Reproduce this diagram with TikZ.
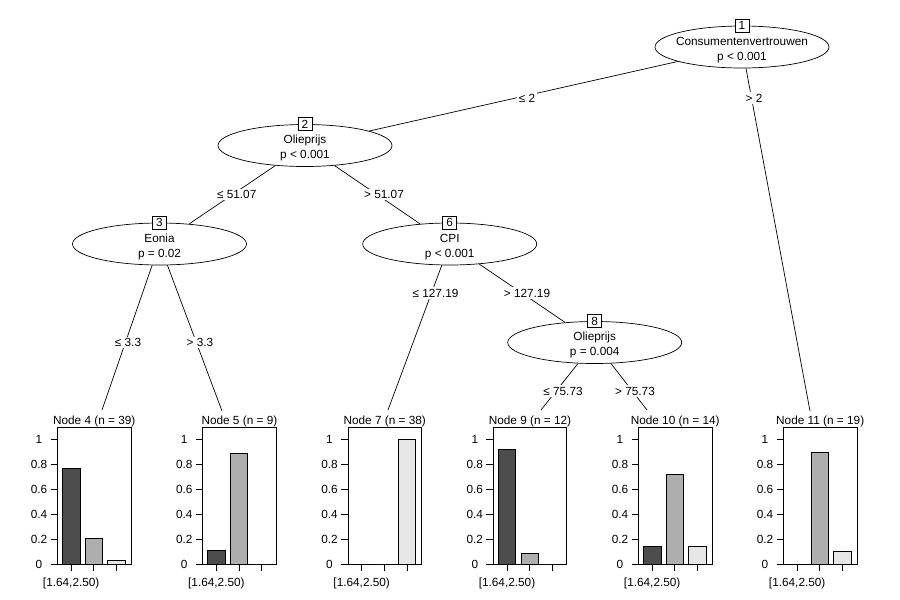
\documentclass[tikz,border=0pt]{standalone}
\usepackage{fontspec}
\setmainfont{Liberation Sans}
\usetikzlibrary{shapes.geometric}
\definecolor{bardark}{HTML}{4D4D4D}
\definecolor{barmid}{HTML}{AEAEAE}
\definecolor{barlight}{HTML}{E6E6E6}
\newcommand{\twolines}[2]{\raisebox{-5.7pt}[0pt][0pt]{\makebox[0pt]{\begin{tabular}{@{}c@{}}#1\\#2\end{tabular}}}}

\begin{document}
\begin{tikzpicture}[x=1pt,y=-1pt,line width=0.7pt,
  every node/.style={font=\fontsize{11.8}{15}\selectfont},
  split/.style={draw,shape=ellipse,fill=white,inner sep=0pt,minimum width=174pt,minimum height=42pt},
  idbox/.style={draw,fill=white,inner sep=0pt,minimum width=14pt,minimum height=13pt},
  elab/.style={fill=white,inner sep=1.5pt}]
  \useasboundingbox (0,0) rectangle (900,600);
  % inner nodes
  \path (742,47) node[split] (n1) {\twolines{Consumentenvertrouwen}{p < 0.001}}
  (305,145.5) node[split] (n2) {\twolines{Olieprijs}{p < 0.001}}
  (159.5,244) node[split] (n3) {\twolines{Eonia}{p = 0.02}}
  (449.7,244) node[split] (n6) {\twolines{CPI}{p < 0.001}}
  (594.7,342.5) node[split] (n8) {\twolines{Olieprijs}{p = 0.004}};
  \foreach \i in {1,2,3,6,8} \node[idbox] (b\i) at (n\i.north) {\i};
  % ends of the edges above the terminal panels
  \path (102,410) coordinate (e4) (222,411) coordinate (e5) (388,410) coordinate (e7)
  (541,410) coordinate (e9) (647,410) coordinate (e10) (810,411) coordinate (e11);
  \draw (n1) -- (n2) (n1) -- (e11) (n2) -- (n3) (n2) -- (n6) (n3) -- (e4) (n3) -- (e5)
  (n6) -- (e7) (n6) -- (n8) (n8) -- (e9) (n8) -- (e10);
  \path (527,98) node[elab] (l2) {≤ 2} (754,98) node[elab] (l11) {> 2}
  (236.7,194.5) node[elab] (l3) {≤ 51.07} (384,194.5) node[elab] (l6) {> 51.07}
  (128,342.5) node[elab] (l4) {≤ 3.3} (200,342.5) node[elab] (l5) {> 3.3}
  (435.5,293) node[elab] (l7) {≤ 127.19} (527,293) node[elab] (l8) {> 127.19}
  (563,391) node[elab] (l9) {≤ 75.73} (635,391) node[elab] (l10) {> 75.73};
  % terminal panels
  \foreach \lx/\k/\n/\ha/\hb/\hc in {57.5/4/39/0.769/0.205/0.026, 202.7/5/9/0.111/0.889/0,
    348/7/38/0/0/1, 493.3/9/12/0.917/0.083/0, 638.5/10/14/0.143/0.714/0.143,
    783.5/11/19/0/0.895/0.105}{
    \node[anchor=base,inner sep=0pt] (t\k) at (\lx+36.7,424) {Node \k{} (n = \n)};
    \draw (\lx,427) rectangle (\lx+73.4,564);
    \draw[fill=bardark] (\lx+5,564) rectangle (\lx+22.4,564-125*\ha);
    \draw[fill=barmid] (\lx+27.6,564) rectangle (\lx+45,564-125*\hb);
    \draw[fill=barlight] (\lx+50.2,564) rectangle (\lx+67.6,564-125*\hc);
    \foreach \v [count=\j] in {0,0.2,0.4,0.6,0.8,1}{
      \draw (\lx-7,564-125*\v) -- (\lx,564-125*\v);
      \node (y\k-\j) at (\lx-18.5,564-125*\v) {\v};
    }
    \foreach \c in {13.7,36.3,58.9} \draw (\lx+\c,564) -- (\lx+\c,571);
    \node[anchor=base,inner sep=0pt] (x\k) at (\lx+13.7,586) {[1.64,2.50)};
  }
\end{tikzpicture}
\end{document}
